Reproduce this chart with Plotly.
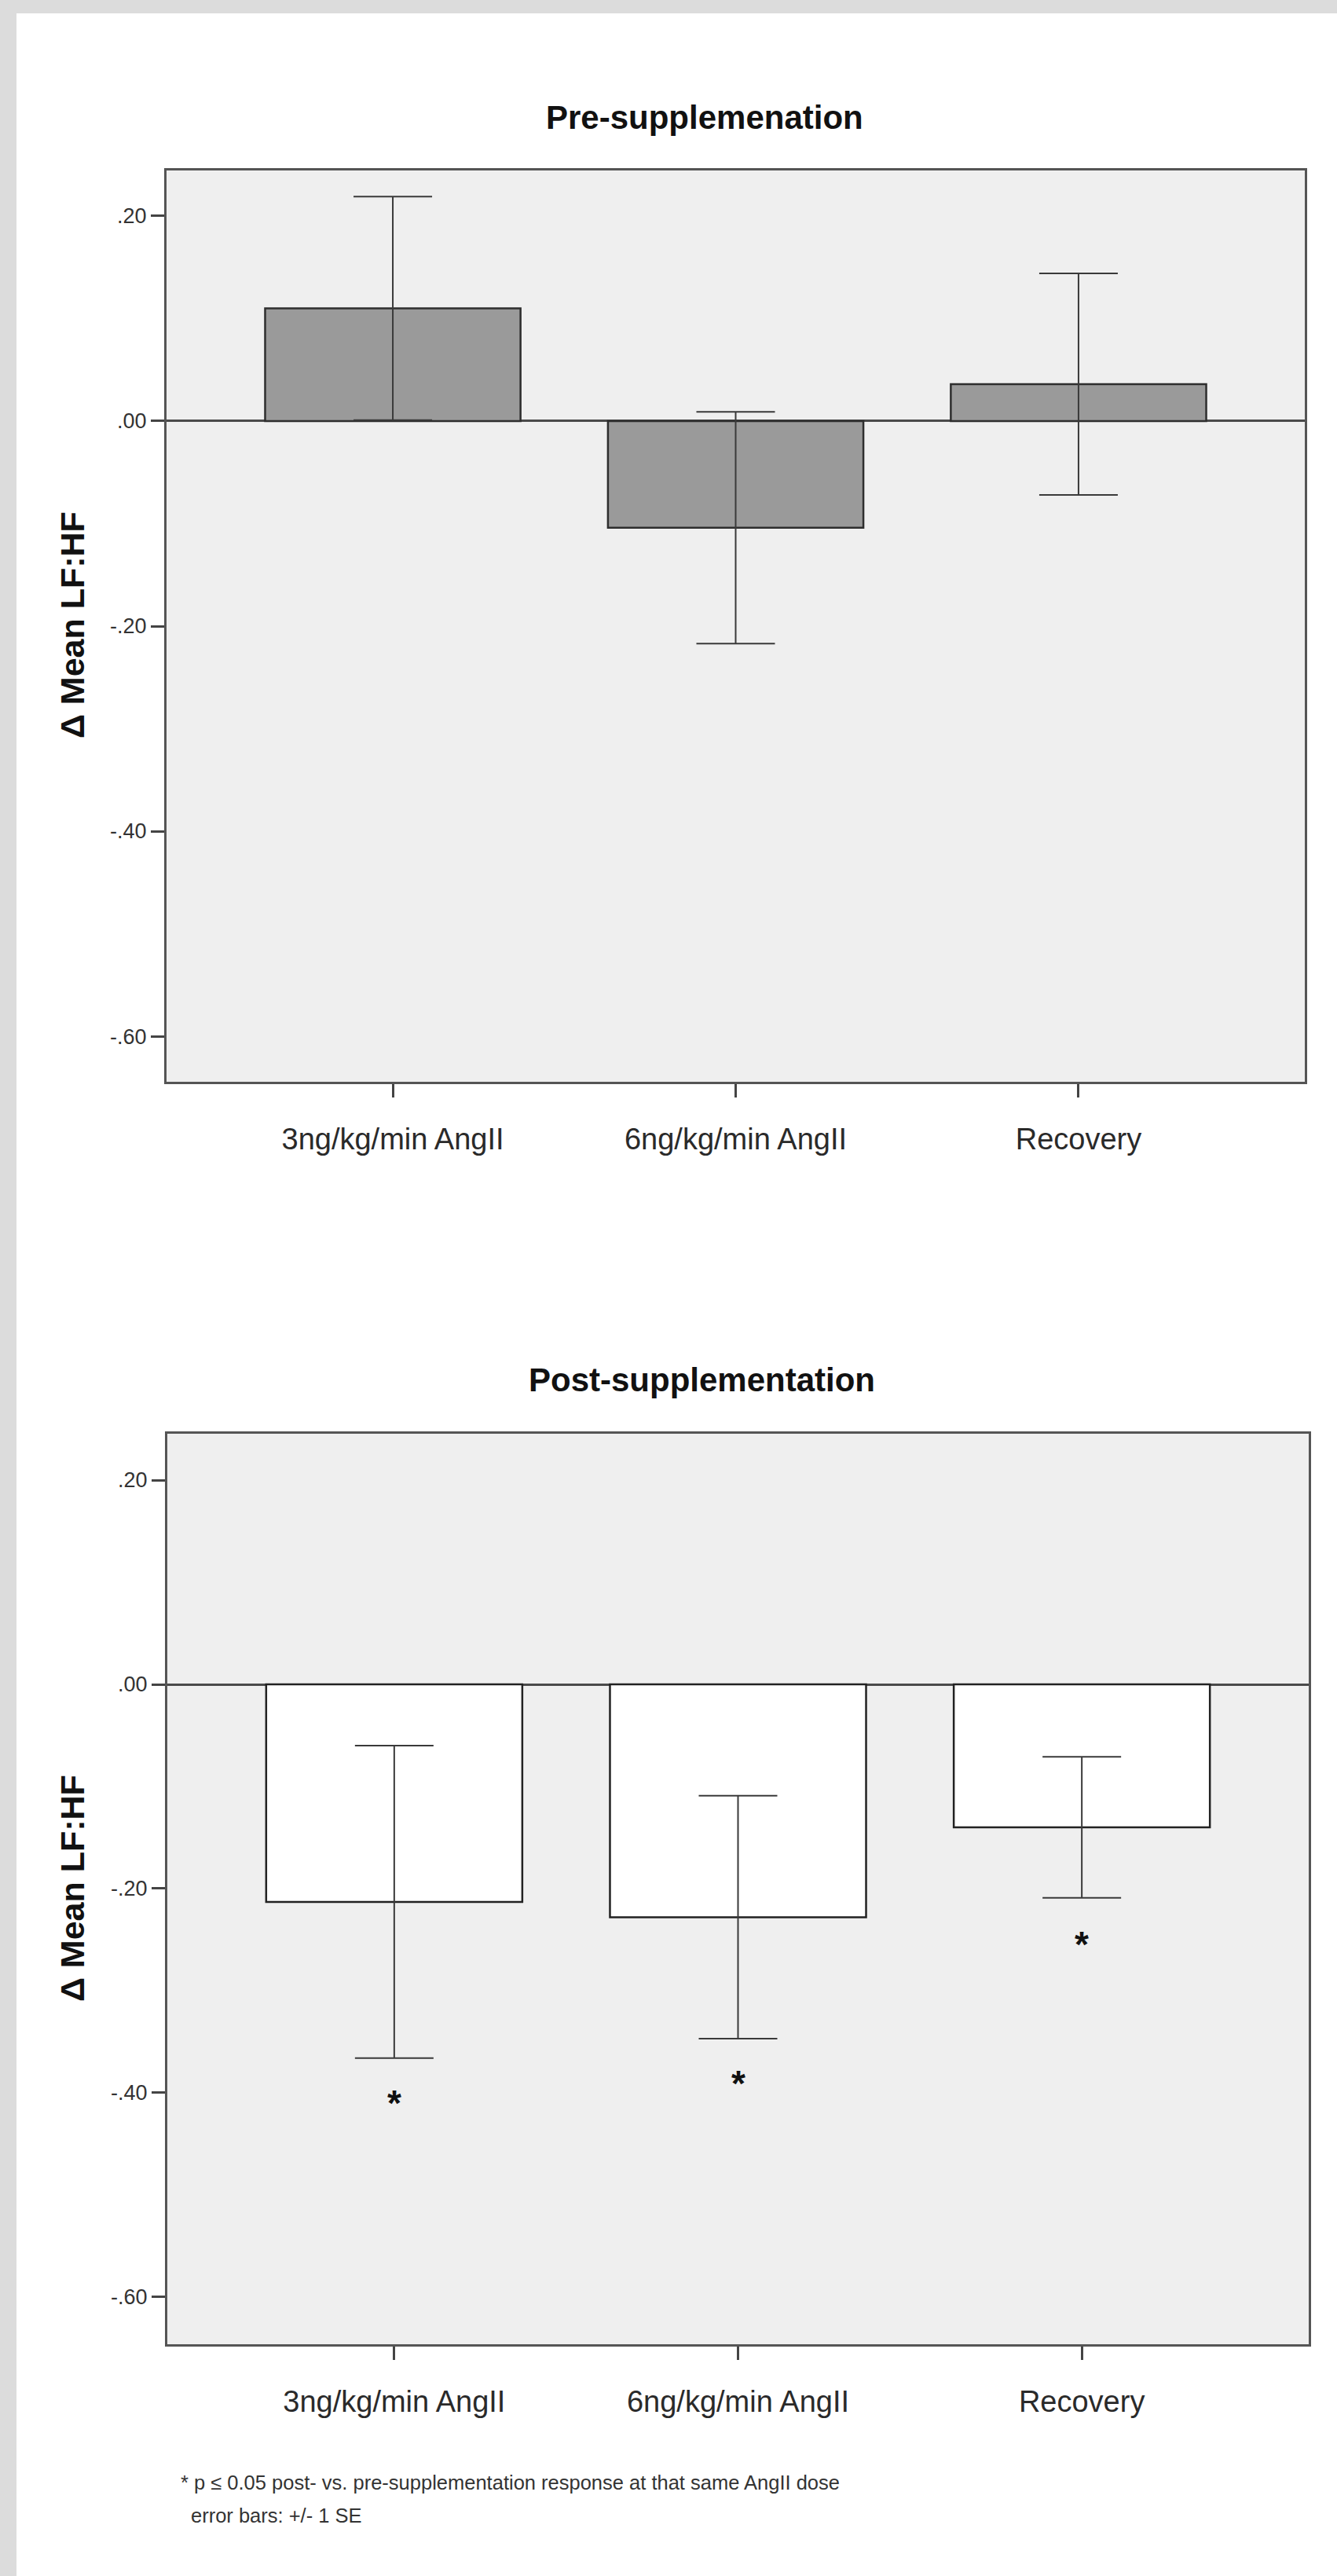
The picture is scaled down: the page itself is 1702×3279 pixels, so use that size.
import plotly.graph_objects as go

# ---------------- data ----------------
categories = ["3ng/kg/min AngII", "6ng/kg/min AngII", "Recovery"]
pre_means = [0.110, -0.104, 0.036]
pre_se = [0.109, 0.113, 0.108]
post_means = [-0.213, -0.228, -0.140]
post_se = [0.153, 0.119, 0.069]
sig_marks = ["*", "*", "*"]
sig_y = [-0.402, -0.383, -0.247]
y_tickvals = [0.2, 0.0, -0.2, -0.4, -0.6]
y_ticktext = [".20", ".00", "-.20", "-.40", "-.60"]
pre_title = "Pre-supplemenation"
post_title = "Post-supplementation"
y_title = "Δ Mean LF:HF"
footnote_lines = [
    "* p ≤ 0.05 post- vs. pre-supplementation response at that same AngII dose",
    "error bars: +/- 1 SE",
]

# ---------------- layout constants ----------------
W, H = 1702, 3279
FONT = "Liberation Sans, Arial, Helvetica, sans-serif"


def px_x(p):
    return p / W


def px_y(p):
    return 1 - p / H


fig = go.Figure()

fig.add_trace(go.Bar(
    x=categories, y=pre_means, width=0.745,
    marker=dict(color="#9a9a9a", line=dict(color="#2e2e2e", width=2.5)),
    error_y=dict(type="data", array=pre_se, visible=True, color="#3a3a3a",
                 thickness=2, width=50),
    xaxis="x", yaxis="y", showlegend=False, hoverinfo="skip",
))
fig.add_trace(go.Bar(
    x=categories, y=post_means, width=0.745,
    marker=dict(color="#ffffff", line=dict(color="#222222", width=2.5)),
    error_y=dict(type="data", array=post_se, visible=True, color="#3a3a3a",
                 thickness=2, width=50),
    xaxis="x2", yaxis="y2", showlegend=False, hoverinfo="skip",
))

xaxis_common = dict(
    type="category", range=[-0.66, 2.66], showline=True, mirror=True,
    linecolor="#555555", linewidth=3, ticks="outside", ticklen=17, tickwidth=3,
    tickcolor="#444444", tickfont=dict(family=FONT, size=38, color="#2a2a2a"),
    ticklabelstandoff=20, showgrid=False, zeroline=False, fixedrange=True,
)
yaxis_common = dict(
    tickvals=y_tickvals, ticktext=y_ticktext, showline=True, mirror=True,
    linecolor="#555555", linewidth=3, ticks="outside", ticklen=17, tickwidth=3,
    tickcolor="#444444", tickfont=dict(family=FONT, size=27, color="#333333"),
    showgrid=False, zeroline=True, zerolinecolor="#4a4a4a", zerolinewidth=3,
    fixedrange=True,
)

annotations = [
    dict(text="<b>%s</b>" % pre_title, x=px_x(897), y=px_y(150), xref="paper", yref="paper",
         showarrow=False, font=dict(family=FONT, size=42, color="#111111"),
         xanchor="center", yanchor="middle"),
    dict(text="<b>%s</b>" % post_title, x=px_x(893), y=px_y(1756), xref="paper", yref="paper",
         showarrow=False, font=dict(family=FONT, size=42, color="#111111"),
         xanchor="center", yanchor="middle"),
    dict(text="<b>%s</b>" % y_title, x=px_x(92), y=px_y(796), xref="paper", yref="paper",
         showarrow=False, textangle=-90, font=dict(family=FONT, size=43, color="#111111"),
         xanchor="center", yanchor="middle"),
    dict(text="<b>%s</b>" % y_title, x=px_x(92), y=px_y(2404), xref="paper", yref="paper",
         showarrow=False, textangle=-90, font=dict(family=FONT, size=43, color="#111111"),
         xanchor="center", yanchor="middle"),
    dict(text=footnote_lines[0], x=px_x(228), y=px_y(3160), xref="paper", yref="paper",
         showarrow=False, font=dict(family=FONT, size=25.5, color="#333333"),
         xanchor="left", yanchor="middle"),
    dict(text=footnote_lines[1], x=px_x(241), y=px_y(3202), xref="paper", yref="paper",
         showarrow=False, font=dict(family=FONT, size=25.5, color="#333333"),
         xanchor="left", yanchor="middle"),
]
for cat, mark, yv in zip(categories, sig_marks, sig_y):
    annotations.append(dict(
        text="<b>%s</b>" % mark, x=cat, y=yv, xref="x2", yref="y2", showarrow=False,
        font=dict(family=FONT, size=46, color="#111111"),
        xanchor="center", yanchor="middle", yshift=-10,
    ))

shapes = [
    dict(type="rect", xref="paper", yref="paper", x0=0, x1=px_x(21), y0=0, y1=1,
         fillcolor="#dcdcdc", line=dict(width=0), layer="below"),
    dict(type="rect", xref="paper", yref="paper", x0=0, x1=1, y0=px_y(17), y1=1,
         fillcolor="#dcdcdc", line=dict(width=0), layer="below"),
]

fig.update_layout(
    width=W, height=H, margin=dict(l=0, r=0, t=0, b=0, pad=0),
    paper_bgcolor="#ffffff", plot_bgcolor="#efefef",
    font=dict(family=FONT),
    xaxis=dict(domain=[px_x(212), px_x(1661)], anchor="y", **xaxis_common),
    yaxis=dict(domain=[px_y(1377), px_y(217)], anchor="x", range=[-0.6444, 0.2444],
               **yaxis_common),
    xaxis2=dict(domain=[px_x(213), px_x(1666)], anchor="y2", **xaxis_common),
    yaxis2=dict(domain=[px_y(2984), px_y(1825)], anchor="x2", range=[-0.6462, 0.2454],
                **yaxis_common),
    annotations=annotations, shapes=shapes, bargap=0.2,
)

fig.write_html(
    "out.html",
    config={"displayModeBar": False},
    post_script="document.body.style.margin='0';document.body.style.overflow='hidden';",
)
